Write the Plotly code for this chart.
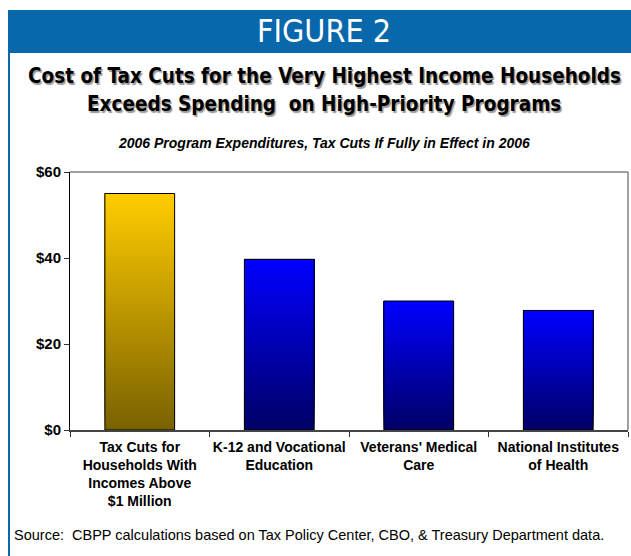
import plotly.graph_objects as go

categories = [
    "Tax Cuts for<br>Households With<br>Incomes Above<br>$1 Million",
    "K-12 and Vocational<br>Education",
    "Veterans' Medical<br>Care",
    "National Institutes<br>of Health",
]
values = [55.0, 39.7, 30.0, 27.8]
top_colors = [(255, 204, 0), (0, 0, 255), (0, 0, 255), (0, 0, 255)]
bottom_colors = [(122, 98, 0), (0, 0, 102), (0, 0, 102), (0, 0, 102)]
tick_vals = [0, 20, 40, 60]
tick_text = ["$0", "$20", "$40", "$60"]

W, H = 631, 556
ML, MR, MT, MB = 70, 3, 172, 126
PW = W - ML - MR
PH = H - MT - MB


def px(x):
    return (x - ML) / PW


def py(y):
    return (H - MB - y) / PH


fig = go.Figure()

N = 60
for i in range(N):
    t = i / (N - 1)
    cols = []
    for tc, bc in zip(top_colors, bottom_colors):
        c = tuple(round(b + (tt - b) * t) for tt, b in zip(tc, bc))
        cols.append("rgb(%d,%d,%d)" % c)
    bases = [v * i / N for v in values]
    fig.add_trace(go.Bar(
        x=categories, y=[v - b for v, b in zip(values, bases)], base=bases,
        marker=dict(color=cols, line=dict(width=0)),
        width=0.5, hoverinfo="skip", showlegend=False,
    ))

fig.add_trace(go.Bar(
    x=categories, y=values,
    marker=dict(color="rgba(0,0,0,0)", line=dict(color="black", width=1)),
    width=0.5, showlegend=False,
))

fig.update_layout(
    width=W, height=H, barmode="overlay",
    margin=dict(l=ML, r=MR, t=MT, b=MB, autoexpand=False),
    paper_bgcolor="white", plot_bgcolor="white",
    font=dict(family="Liberation Sans, Arial, sans-serif", color="black"),
)

fig.update_yaxes(
    range=[0, 60], tickvals=tick_vals, ticktext=tick_text,
    ticks="outside", ticklen=5, tickcolor="#333", showgrid=False,
    showline=True, linecolor="black", linewidth=1, zeroline=False,
    tickfont=dict(size=15, family="Liberation Sans, Arial", color="black", weight="bold"),
    fixedrange=True,
)
fig.update_xaxes(
    ticks="outside", ticklen=5, tickcolor="#333", tickson="boundaries",
    showline=True, linecolor="#444", linewidth=2, showgrid=False, tickangle=0,
    tickfont=dict(size=14, family="Liberation Sans, Arial", color="black", weight="bold"),
    ticklabelstandoff=3,
)

blue = "#0967ab"
shapes = [
    dict(type="rect", xref="paper", yref="paper", x0=px(8), x1=px(W + 2), y0=py(53), y1=py(10),
         fillcolor=blue, line=dict(width=0), layer="below"),
    dict(type="rect", xref="paper", yref="paper", x0=px(8), x1=px(10), y0=py(H + 2), y1=py(10),
         fillcolor=blue, line=dict(width=0), layer="below"),
    dict(type="line", xref="paper", yref="paper", x0=0, x1=1, y0=1, y1=1,
         line=dict(color="#808080", width=1.5), layer="below"),
    dict(type="line", xref="paper", yref="paper", x0=1, x1=1, y0=0, y1=1,
         line=dict(color="#808080", width=1.5), layer="below"),
]
fig.update_layout(shapes=shapes)

cx = px(324)
narrow = "DejaVu Sans Condensed, Liberation Sans, Arial, sans-serif"
ann = []
ann.append(dict(text="FIGURE 2", x=cx, y=py(31), xref="paper", yref="paper",
                xanchor="center", yanchor="middle", showarrow=False,
                font=dict(family=narrow, size=32, color="white")))
for yy, txt in [(76, "Cost of Tax Cuts for the Very Highest Income Households"),
                (104, "Exceeds Spending  on High-Priority Programs")]:
    ann.append(dict(text=txt, x=cx, y=py(yy), xref="paper", yref="paper",
                    xanchor="center", yanchor="middle", showarrow=False,
                    font=dict(family=narrow, size=20.5, color="black", weight="bold",
                              shadow="1.5px 1.5px 1px #9a9a9a")))
ann.append(dict(text="<i>2006 Program Expenditures, Tax Cuts If Fully in Effect in 2006</i>",
                x=cx, y=py(143), xref="paper", yref="paper",
                xanchor="center", yanchor="middle", showarrow=False,
                font=dict(family="Liberation Sans, Arial", size=14, color="black", weight="bold")))
ann.append(dict(text="Source:  CBPP calculations based on Tax Policy Center, CBO, & Treasury Department data.",
                x=px(12), y=py(535), xref="paper", yref="paper",
                xanchor="left", yanchor="middle", showarrow=False,
                font=dict(family="Liberation Sans, Arial", size=14.5, color="black")))
fig.update_layout(annotations=ann)

fig.write_html("out.html")
